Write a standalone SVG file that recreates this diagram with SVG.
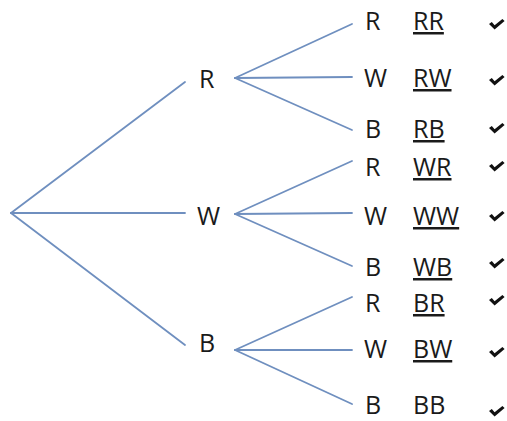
<svg xmlns="http://www.w3.org/2000/svg" width="507" height="421" viewBox="0 0 507 421">
<style>
.t{font-family:"Open Sans","Liberation Sans",sans-serif;font-size:25px;fill:#1a1a1a}
.u{text-decoration:underline;text-decoration-thickness:2px;text-underline-offset:3px}
.e{stroke:#6f8fbf;stroke-width:1.8;fill:none;stroke-linecap:round}
.c{fill:#111}
</style>
<defs>
<polygon id="chk" points="0,5 2.8,3 5.6,6.2 13.4,0 15.6,2 5.6,10.5"/>
</defs>
<rect width="507" height="421" fill="#fff"/>
<g id="connectors" class="e">
<line x1="11" y1="213" x2="185" y2="82"/>
<line x1="11" y1="213" x2="185" y2="213"/>
<line x1="11" y1="213" x2="185" y2="345"/>
<line x1="235" y1="78" x2="352" y2="24"/>
<line x1="235" y1="78" x2="352" y2="77"/>
<line x1="235" y1="78" x2="352" y2="130"/>
<line x1="235" y1="214" x2="352" y2="161"/>
<line x1="235" y1="214" x2="352" y2="213"/>
<line x1="235" y1="214" x2="352" y2="266"/>
<line x1="235" y1="350" x2="352" y2="297"/>
<line x1="235" y1="350" x2="352" y2="350"/>
<line x1="235" y1="350" x2="352" y2="404"/>
</g>
<g id="n1R"><text class="t" x="199" y="88">R</text></g>
<g id="n1W"><text class="t" x="197" y="225">W</text></g>
<g id="n1B"><text class="t" x="199" y="352">B</text></g>
<g id="RR"><text class="t" x="365" y="30">R</text><text class="t u" x="413" y="30">RR</text><use href="#chk" class="c" x="489" y="19"/></g>
<g id="RW"><text class="t" x="364" y="87">W</text><text class="t u" x="413" y="87">RW</text><use href="#chk" class="c" x="489" y="75"/></g>
<g id="RB"><text class="t" x="365" y="138">B</text><text class="t u" x="413" y="138">RB</text><use href="#chk" class="c" x="489" y="123"/></g>
<g id="WR"><text class="t" x="365" y="176">R</text><text class="t u" x="413" y="176">WR</text><use href="#chk" class="c" x="489" y="161"/></g>
<g id="WW"><text class="t" x="364" y="225">W</text><text class="t u" x="413" y="225">WW</text><use href="#chk" class="c" x="489" y="211"/></g>
<g id="WB"><text class="t" x="365" y="276">B</text><text class="t u" x="413" y="276">WB</text><use href="#chk" class="c" x="489" y="258"/></g>
<g id="BR"><text class="t" x="365" y="312">R</text><text class="t u" x="413" y="312">BR</text><use href="#chk" class="c" x="489" y="295"/></g>
<g id="BW"><text class="t" x="364" y="358">W</text><text class="t u" x="413" y="358">BW</text><use href="#chk" class="c" x="489" y="347"/></g>
<g id="BB"><text class="t" x="365" y="414">B</text><text class="t" x="413" y="414">BB</text><use href="#chk" class="c" x="489" y="406"/></g>
</svg>
